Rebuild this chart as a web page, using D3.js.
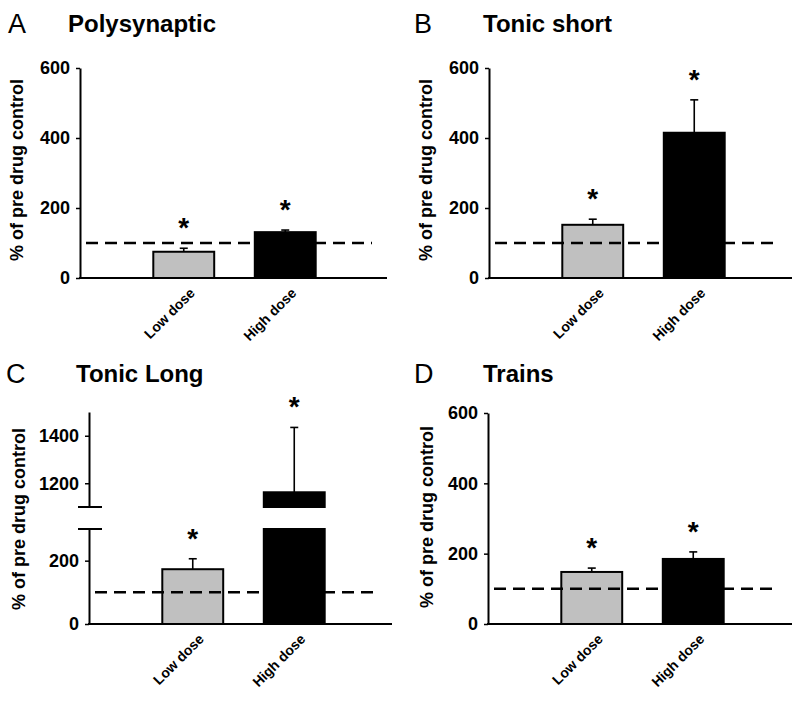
<html>
<head>
<style>
  body { margin: 0; background: #fff; }
  text { font-family: "Liberation Sans", Arial, Helvetica, sans-serif; }
</style>
</head>
<body>
<svg id="fig"></svg>
<script src="https://cdn.jsdelivr.net/npm/d3@7"></script>
<script>
let width = 800, height = 702

// values (% of pre drug control, mean and +SEM)
let doses = ["Low dose", "High dose"]
let panelLetters = ["A", "B", "C", "D"]
let panelTitles = ["Polysynaptic", "Tonic short", "Tonic Long", "Trains"]
let polyMean = [75, 131]
let polyErr = [10, 6]
let shortMean = [152, 415]
let shortErr = [16, 94]
let longMean = [173, 1162]
let longErr = [33, 273]
let trainsMean = [148, 185]
let trainsErr = [11, 20]
let yTicks = [0, 200, 400, 600]
let longTicksLow = [0, 200]
let longTicksHigh = [1200, 1400]
let longBreak = [300, 1100]
let longTop = 1500
let control = 100
let barColors = ["#c0c0c0", "#000"]

let svg = d3.select("#fig").attr("width", width).attr("height", height)

// panel layout: left/right of x axis, baseline, segments of the y axis
let layout = [
    { left: 80, right: 387, bottom: 278, letterX: 8, titleX: 68, titleY: 32, labelX: 23, labelY: 170,
      segs: [{ dom: [0, 600], rng: [278, 68], ticks: yTicks }] },
    { left: 489, right: 792, bottom: 278, letterX: 414, titleX: 483, titleY: 32, labelX: 432, labelY: 170,
      segs: [{ dom: [0, 600], rng: [278, 68], ticks: yTicks }] },
    { left: 89, right: 392, bottom: 624, letterX: 6, titleX: 76, titleY: 382, labelX: 25, labelY: 519,
      segs: [{ dom: [0, longBreak[0]], rng: [624, 529], ticks: longTicksLow },
             { dom: [longBreak[1], longTop], rng: [507, 412], ticks: longTicksHigh }] },
    { left: 488, right: 792, bottom: 624, letterX: 414, titleX: 483, titleY: 382, labelX: 433, labelY: 517,
      segs: [{ dom: [0, 600], rng: [624, 413], ticks: yTicks }] }
]

let means = [polyMean, shortMean, longMean, trainsMean]
let errs = [polyErr, shortErr, longErr, trainsErr]

function drawPanel(i) {
    let L = layout[i]
    let g = svg.append("g")

    let x = d3.scaleBand()
        .domain(doses)
        .range([L.left + 53, L.left + 256])
        .paddingInner(0.4)
        .paddingOuter(0.2)

    let scales = L.segs.map(s => ({ s: s, y: d3.scaleLinear().domain(s.dom).range(s.rng) }))
    let yOf = v => {
        let sc = scales.find(d => v >= d.s.dom[0] && v <= d.s.dom[1]) || scales[scales.length - 1]
        return sc.y(v)
    }

    // panel letter + title
    g.append("text").attr("x", L.letterX).attr("y", L.titleY + 1)
        .attr("font-size", 27).text(panelLetters[i])
    g.append("text").attr("x", L.titleX).attr("y", L.titleY)
        .attr("font-size", 24).attr("font-weight", "bold").text(panelTitles[i])

    // y label
    g.append("text")
        .attr("transform", `translate(${L.labelX},${L.labelY}) rotate(-90)`)
        .attr("text-anchor", "middle")
        .attr("font-size", 18).attr("font-weight", "bold")
        .text("% of pre drug control")

    // bars, clipped per axis segment
    doses.forEach((d, j) => {
        let m = means[i][j]
        scales.forEach(sc => {
            let lo = sc.s.dom[0], hi = Math.min(m, sc.s.dom[1])
            if (hi <= lo) return
            g.append("rect")
                .attr("x", x(d)).attr("width", x.bandwidth())
                .attr("y", sc.y(hi)).attr("height", sc.y(lo) - sc.y(hi))
                .attr("fill", barColors[j])
                .attr("stroke", "#000").attr("stroke-width", 2)
        })
        let cx = x(d) + x.bandwidth() / 2
        let top = m + errs[i][j]
        g.append("line").attr("x1", cx).attr("x2", cx)
            .attr("y1", yOf(m)).attr("y2", yOf(top))
            .attr("stroke", "#000").attr("stroke-width", 1.6)
        g.append("line").attr("x1", cx - 4).attr("x2", cx + 4)
            .attr("y1", yOf(top)).attr("y2", yOf(top))
            .attr("stroke", "#000").attr("stroke-width", 1.6)
        g.append("text").attr("x", cx).attr("y", yOf(top) - 11)
            .attr("text-anchor", "middle")
            .attr("font-size", 28).attr("font-weight", "bold")
            .text("*")
    })

    // control level
    g.append("line")
        .attr("x1", L.left + 6).attr("x2", L.right - 15)
        .attr("y1", yOf(control)).attr("y2", yOf(control))
        .attr("stroke", "#000").attr("stroke-width", 2.5)
        .attr("stroke-dasharray", "12,7")

    // y axis segments
    scales.forEach((sc, k) => {
        let ax = g.append("g")
            .attr("transform", `translate(${L.left},0)`)
            .call(d3.axisLeft(sc.y).tickValues(sc.s.ticks).tickFormat(d3.format("d"))
                .tickSize(4).tickPadding(6).tickSizeOuter(0))
        ax.select(".domain").attr("stroke-width", 2)
        ax.selectAll(".tick line").attr("stroke-width", 1.5)
        ax.selectAll("text").attr("font-size", 18).attr("font-weight", "bold")
            .attr("font-family", null).attr("fill", "#000")
        if (scales.length > 1) {
            let yb = k == 0 ? sc.y(sc.s.dom[1]) : sc.y(sc.s.dom[0])
            g.append("line").attr("x1", L.left - 11).attr("x2", L.left + 13)
                .attr("y1", yb).attr("y2", yb)
                .attr("stroke", "#000").attr("stroke-width", 2)
        }
    })

    // x axis
    g.append("line").attr("x1", L.left - 1).attr("x2", L.right)
        .attr("y1", L.bottom).attr("y2", L.bottom)
        .attr("stroke", "#000").attr("stroke-width", 2)
    let xa = g.append("g")
        .attr("transform", `translate(0,${L.bottom})`)
        .call(d3.axisBottom(x).tickSize(0))
    xa.select(".domain").remove()
    xa.selectAll("text")
        .attr("y", 0).attr("dy", 0)
        .attr("font-family", null).attr("fill", "#000")
        .attr("font-size", 14).attr("font-weight", "bold")
        .attr("text-anchor", "end")
        .attr("transform", "translate(12,16) rotate(-45)")
}

panelLetters.forEach((p, i) => drawPanel(i))
</script>
</body>
</html>
